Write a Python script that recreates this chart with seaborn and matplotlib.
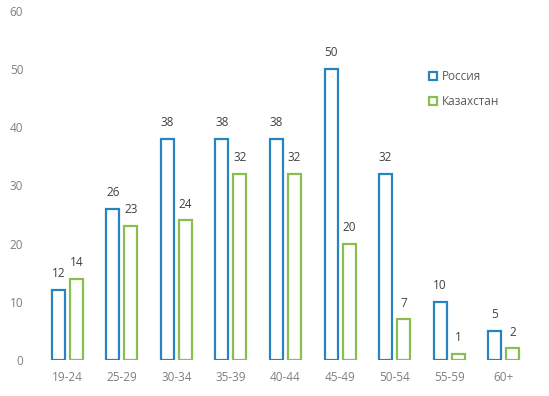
import matplotlib
matplotlib.use("Agg")
import matplotlib.pyplot as plt
import seaborn as sns
import pandas as pd
from matplotlib.patches import Patch

categories = ["19-24", "25-29", "30-34", "35-39", "40-44", "45-49", "50-54", "55-59", "60+"]
russia = [12, 26, 38, 38, 38, 50, 32, 10, 5]
kazakhstan = [14, 23, 24, 32, 32, 20, 7, 1, 2]
series_names = ["Россия", "Казахстан"]
colors = ["#2A83C1", "#8BBD4F"]

df = pd.DataFrame({
    "age": categories * 2,
    "value": russia + kazakhstan,
    "country": [series_names[0]] * len(categories) + [series_names[1]] * len(categories),
})

sns.set_theme(style="white")
plt.rcParams["font.family"] = ["Open Sans", "DejaVu Sans"]

fig = plt.figure(figsize=(5.49, 3.96), dpi=100)
ax = fig.add_axes([40 / 549, 1 - 360 / 396, (531 - 40) / 549, (360 - 11) / 396])

sns.barplot(data=df, x="age", y="value", hue="country", palette=colors,
            width=0.66, gap=0.28, ax=ax, legend=False, errorbar=None)

for patch_container, col in zip(ax.containers, colors):
    for p in patch_container:
        p.set_facecolor("white")
        p.set_edgecolor(col)
        p.set_linewidth(1.6)
    ax.bar_label(patch_container, padding=7, fontsize=8.5, color="#404040")

ax.set_ylim(0, 60)
ax.set_yticks(range(0, 61, 10))
ax.set_xlabel("")
ax.set_ylabel("")
for s in ax.spines.values():
    s.set_visible(False)
ax.tick_params(axis="both", length=0, labelsize=8.5, labelcolor="#7F7F7F")
ax.tick_params(axis="y", pad=12)
ax.tick_params(axis="x", pad=8)

handles = [Patch(facecolor="white", edgecolor=c, linewidth=1.6, label=n) for c, n in zip(colors, series_names)]
leg = ax.legend(handles=handles, loc="upper left", bbox_to_anchor=(0.77, 0.86), frameon=False,
                fontsize=8.5, handlelength=0.7, handleheight=0.7, handletextpad=0.4, labelspacing=1.0)
for t in leg.get_texts():
    t.set_color("#595959")

fig.savefig("out.png", dpi=100)
